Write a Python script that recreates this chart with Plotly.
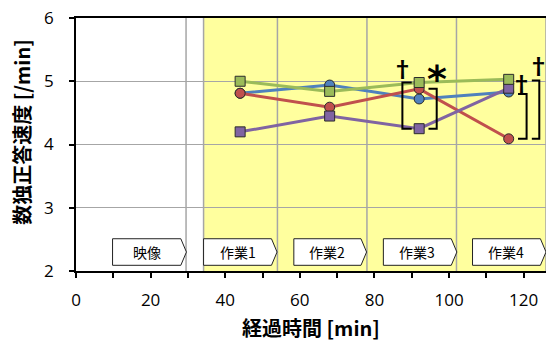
import plotly.graph_objects as go

# Elapsed time of each measurement [min]
time_min = [44, 68, 92, 116]

# Sudoku correct-answer rate [/min] for each condition
blue_vals = [4.81, 4.94, 4.72, 4.83]
red_vals = [4.81, 4.59, 4.88, 4.09]
purple_vals = [4.20, 4.45, 4.25, 4.89]
green_vals = [5.00, 4.84, 4.98, 5.03]

x_ticks = [0, 20, 40, 60, 80, 100, 120]
y_ticks = [2, 3, 4, 5, 6]

# Session phases shown as arrow boxes along the bottom
phase_labels = ["映像", "作業1", "作業2", "作業3", "作業4"]
phase_box_start = [9.8, 34.2, 58.4, 82.4, 106.3]
phase_box_end = [29.6, 53.9, 77.9, 102.1, 126.0]
phase_bounds = [29.5, 34.2, 54.0, 78.0, 102.0, 126.0]
work_start, work_end = 34.2, 126.0

X_MAX = 126
Y_MIN, Y_MAX = 2, 6

series = [
    ("blue", blue_vals, "#4F81BD", "circle"),
    ("red", red_vals, "#C0504D", "circle"),
    ("purple", purple_vals, "#8064A2", "square"),
    ("green", green_vals, "#9BBB59", "square"),
]

fig = go.Figure()

for name, vals, color, symbol in series:
    fig.add_trace(go.Scatter(
        x=time_min, y=vals, name=name, mode="lines+markers",
        line=dict(color=color, width=3),
        marker=dict(symbol=symbol, size=10, color=color,
                    line=dict(color="#2b2b2b", width=1)),
        showlegend=False, cliponaxis=False,
    ))

shapes = []
# Yellow band for the task period
shapes.append(dict(type="rect", xref="x", yref="y", x0=work_start, x1=work_end,
                   y0=Y_MIN, y1=Y_MAX, fillcolor="#FFFF9E", line=dict(width=0),
                   layer="below"))
# Phase boundary lines
for b in phase_bounds:
    shapes.append(dict(type="line", xref="x", yref="y", x0=b, x1=b, y0=Y_MIN, y1=Y_MAX,
                       line=dict(color="#A6A6A6", width=1.5), layer="between"))

# Arrow-shaped phase boxes
box_y0, box_y1 = 2.09, 2.51
tip = 1.5
annotations = []
for lab, x0, x1 in zip(phase_labels, phase_box_start, phase_box_end):
    ym = (box_y0 + box_y1) / 2
    path = (f"M {x0},{box_y0} L {x1 - tip},{box_y0} L {x1},{ym} "
            f"L {x1 - tip},{box_y1} L {x0},{box_y1} Z")
    shapes.append(dict(type="path", xref="x", yref="y", path=path,
                       fillcolor="white", line=dict(color="#222222", width=1),
                       layer="above"))
    annotations.append(dict(x=(x0 + x1 - tip) / 2, y=ym, xref="x", yref="y",
                            text=lab, showarrow=False,
                            font=dict(family="Noto Sans CJK JP", size=14, color="black"),
                            xanchor="center", yanchor="middle"))

# Significance brackets: (vertical x, stub end x, top value, bottom value)
brackets = [
    (87.5, 90.0, green_vals[2], purple_vals[2]),
    (96.7, 94.5, red_vals[2], purple_vals[2]),
    (120.8, 118.5, blue_vals[3] - 0.03, red_vals[3]),
    (124.2, 122.2, green_vals[3] - 0.02, red_vals[3]),
]
for xv, xs, ytop, ybot in brackets:
    path = f"M {xs},{ytop} L {xv},{ytop} L {xv},{ybot} L {xs},{ybot}"
    shapes.append(dict(type="path", xref="x", yref="y", path=path,
                       line=dict(color="black", width=2), layer="above"))

# Significance marks: (text, x, y, font size, family, box width, box height)
marks = [
    ("<b>†</b>", 87.6, 5.22, 22, "Noto Sans CJK JP", 13, 24),
    ("<b>*</b>", 96.9, 5.04, 38, "DejaVu Sans", None, None),
    ("<b>†</b>", 119.5, 4.99, 22, "Noto Sans CJK JP", 13, 24),
    ("<b>†</b>", 123.9, 5.28, 22, "Noto Sans CJK JP", 13, 24),
]
for txt, mx, my, fs, fam, w, h in marks:
    ann = dict(x=mx, y=my, xref="x", yref="y", text=txt, showarrow=False,
               font=dict(family=fam, size=fs, color="black"),
               xanchor="center", yanchor="middle", borderpad=0)
    if w is not None:
        ann.update(width=w, height=h)
    annotations.append(ann)

# Axis titles
annotations.append(dict(x=0.5, y=-0.225, xref="paper", yref="paper",
                        text="<b>経過時間 [min]</b>", showarrow=False,
                        font=dict(family="Noto Sans CJK JP", size=20, color="black"),
                        xanchor="center", yanchor="middle"))
annotations.append(dict(x=-0.115, y=0.55, xref="paper", yref="paper",
                        text="<b>数独正答速度 [/min]</b>", showarrow=False, textangle=-90,
                        font=dict(family="Noto Sans CJK JP", size=20, color="black"),
                        xanchor="center", yanchor="middle"))

fig.update_layout(
    width=552, height=345,
    margin=dict(l=76, r=6, t=18, b=74),
    paper_bgcolor="white", plot_bgcolor="white",
    shapes=shapes, annotations=annotations,
    font=dict(family="Open Sans", size=16, color="black"),
)

fig.update_xaxes(
    range=[0, X_MAX], tickvals=x_ticks, showgrid=False, zeroline=False,
    showline=True, linecolor="black", linewidth=1.5, mirror=True,
    ticks="outside", ticklen=5, tickcolor="black", tickwidth=1.5,
    minor=dict(dtick=10, tick0=0, ticks="outside", ticklen=5, tickcolor="black",
               tickwidth=1.5, showgrid=False),
    ticklabelstandoff=8,
    tickfont=dict(family="Open Sans", size=17),
)
fig.update_yaxes(
    range=[Y_MIN, Y_MAX], tickvals=y_ticks, showgrid=True, gridcolor="#A6A6A6",
    gridwidth=1, zeroline=False,
    showline=True, linecolor="black", linewidth=1.5,
    ticks="outside", ticklen=5, tickcolor="black", tickwidth=1.5,
    ticklabelstandoff=12,
    tickfont=dict(family="Open Sans", size=17),
)

fig.write_html("out.html")
